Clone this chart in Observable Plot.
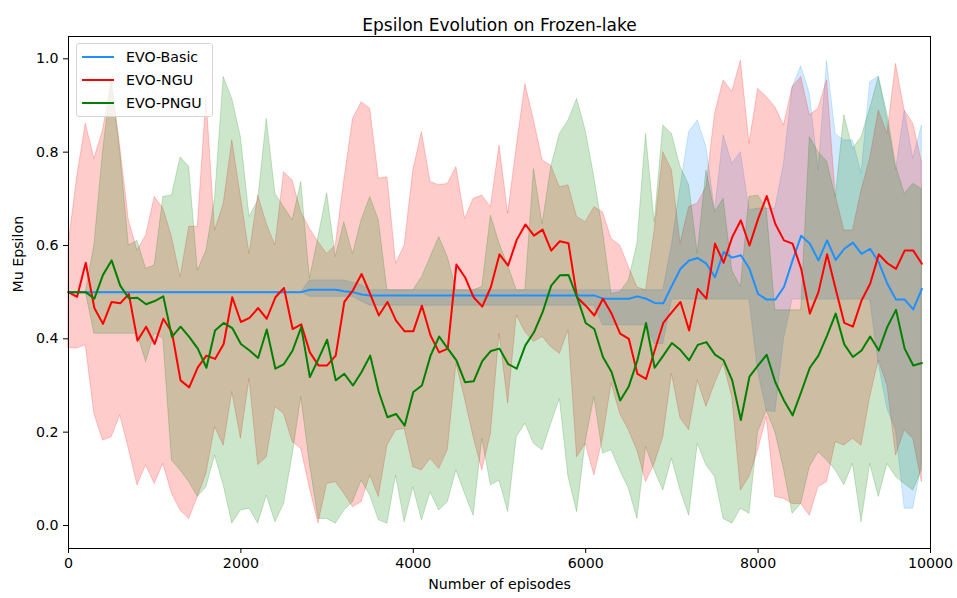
<!DOCTYPE html>
<html><head><meta charset="utf-8">
<script src="https://cdn.jsdelivr.net/npm/d3@7"></script>
<script src="https://cdn.jsdelivr.net/npm/@observablehq/plot@0.6"></script>
<style>
body{margin:0;background:#fff;font-family:"DejaVu Sans",sans-serif;}
#wrap{position:relative;width:957px;height:598px;}
#legend{position:absolute;left:76px;top:43px;width:137px;height:74px;border:1px solid #d6d6d6;border-radius:3px;background:rgba(255,255,255,0.8);box-sizing:border-box;}
.item{position:absolute;left:5px;height:22px;display:flex;align-items:center;font-size:14.2px;color:#000;white-space:nowrap;}
.item span.sw{display:inline-block;width:32px;height:2px;margin-right:12px;}
</style></head><body><div id="wrap"><div id="legend"></div></div>
<script>
const episodes = [0,100,200,300,400,500,600,700,800,900,1000,1100,1200,1300,1400,1500,1600,1700,1800,1900,2000,2100,2200,2300,2400,2500,2600,2700,2800,2900,3000,3100,3200,3300,3400,3500,3600,3700,3800,3900,4000,4100,4200,4300,4400,4500,4600,4700,4800,4900,5000,5100,5200,5300,5400,5500,5600,5700,5800,5900,6000,6100,6200,6300,6400,6500,6600,6700,6800,6900,7000,7100,7200,7300,7400,7500,7600,7700,7800,7900,8000,8100,8200,8300,8400,8500,8600,8700,8800,8900,9000,9100,9200,9300,9400,9500,9600,9700,9800,9900];

const seriesNames = ["EVO-Basic","EVO-NGU","EVO-PNGU"];
const seriesColors = ["#1e90ff","#ff0000","#008000"];

const basicMean = [0.5,0.5,0.5,0.5,0.5,0.5,0.5,0.5,0.5,0.5,0.5,0.5,0.5,0.5,0.5,0.5,0.5,0.5,0.5,0.5,0.5,0.5,0.5,0.5,0.5,0.5,0.5,0.5,0.505,0.505,0.505,0.505,0.502,0.5,0.495,0.493,0.493,0.493,0.493,0.493,0.493,0.493,0.493,0.493,0.493,0.493,0.493,0.493,0.493,0.493,0.493,0.493,0.493,0.493,0.493,0.493,0.493,0.493,0.493,0.493,0.493,0.493,0.486,0.486,0.486,0.486,0.491,0.486,0.477,0.476,0.514,0.55,0.568,0.573,0.561,0.532,0.586,0.574,0.579,0.55,0.496,0.484,0.484,0.511,0.568,0.621,0.604,0.568,0.611,0.569,0.593,0.606,0.582,0.593,0.564,0.518,0.484,0.484,0.463,0.507];
const basicLow = [0.5,0.5,0.5,0.5,0.5,0.5,0.5,0.5,0.5,0.5,0.5,0.5,0.5,0.5,0.5,0.5,0.5,0.5,0.5,0.5,0.5,0.5,0.5,0.5,0.5,0.5,0.5,0.5,0.49,0.49,0.49,0.49,0.49,0.49,0.48,0.471,0.471,0.471,0.471,0.471,0.471,0.471,0.471,0.471,0.471,0.471,0.471,0.471,0.471,0.471,0.471,0.471,0.471,0.471,0.471,0.471,0.471,0.471,0.471,0.471,0.471,0.471,0.429,0.429,0.429,0.429,0.429,0.429,0.389,0.389,0.484,0.484,0.484,0.484,0.484,0.484,0.484,0.484,0.484,0.484,0.33,0.246,0.243,0.4,0.484,0.484,0.484,0.484,0.484,0.484,0.484,0.484,0.484,0.484,0.346,0.25,0.204,0.036,0.036,0.132];
const basicHigh = [0.5,0.5,0.5,0.5,0.5,0.5,0.5,0.5,0.5,0.5,0.5,0.5,0.5,0.5,0.5,0.5,0.5,0.5,0.5,0.5,0.5,0.5,0.5,0.5,0.5,0.5,0.5,0.5,0.525,0.525,0.525,0.525,0.525,0.52,0.515,0.504,0.504,0.504,0.504,0.504,0.504,0.504,0.504,0.504,0.504,0.504,0.504,0.504,0.504,0.504,0.504,0.504,0.504,0.504,0.504,0.504,0.504,0.504,0.504,0.504,0.504,0.504,0.504,0.504,0.504,0.504,0.504,0.504,0.504,0.504,0.6,0.725,0.843,0.868,0.811,0.675,0.836,0.775,0.8,0.675,0.679,0.679,0.679,0.775,0.939,0.984,0.925,0.761,0.995,0.839,0.825,0.825,0.754,0.95,0.962,0.868,0.761,0.889,0.786,0.857];

const nguMean = [0.5,0.49,0.563,0.466,0.432,0.479,0.476,0.496,0.396,0.426,0.389,0.443,0.414,0.311,0.296,0.339,0.364,0.357,0.389,0.489,0.436,0.445,0.466,0.443,0.489,0.509,0.421,0.431,0.371,0.343,0.343,0.364,0.479,0.504,0.539,0.496,0.45,0.479,0.439,0.416,0.416,0.471,0.407,0.371,0.379,0.559,0.532,0.489,0.469,0.511,0.581,0.557,0.612,0.645,0.621,0.634,0.589,0.609,0.605,0.489,0.471,0.45,0.486,0.454,0.411,0.4,0.325,0.314,0.375,0.434,0.457,0.479,0.418,0.507,0.486,0.604,0.563,0.618,0.654,0.6,0.657,0.706,0.646,0.611,0.604,0.55,0.454,0.5,0.581,0.507,0.434,0.426,0.482,0.518,0.581,0.562,0.55,0.589,0.589,0.561];
const nguLow = [0.38,0.379,0.386,0.239,0.182,0.189,0.236,0.164,0.086,0.129,0.089,0.132,0.068,0.032,0.014,0.061,0.111,0.211,0.171,0.286,0.186,0.314,0.129,0.146,0.254,0.239,0.179,0.164,0.08,0.004,0.089,0.093,0.068,0.039,0.05,0.107,0.061,0.171,0.204,0.207,0.125,0.118,0.143,0.121,0.161,0.346,0.271,0.189,0.118,0.196,0.411,0.261,0.45,0.414,0.393,0.404,0.382,0.368,0.418,0.146,0.175,0.107,0.186,0.304,0.239,0.204,0.16,0.093,0.132,0.189,0.325,0.229,0.204,0.311,0.254,0.304,0.346,0.275,0.075,0.104,0.161,0.232,0.061,0.057,0.046,0.046,0.021,0.082,0.093,0.179,0.171,0.186,0.171,0.275,0.354,0.3,0.15,0.204,0.186,0.093];
const nguHigh = [0.6,0.746,0.861,0.786,0.846,0.954,0.811,0.654,0.589,0.621,0.704,0.679,0.618,0.532,0.64,0.64,0.918,0.632,0.689,0.825,0.704,0.582,0.707,0.646,0.6,0.757,0.739,0.671,0.636,0.607,0.582,0.6,0.739,0.871,0.907,0.893,0.743,0.746,0.561,0.6,0.761,0.843,0.736,0.729,0.732,0.768,0.657,0.7,0.707,0.682,0.814,0.668,0.811,0.946,0.868,0.782,0.771,0.725,0.729,0.661,0.65,0.682,0.671,0.614,0.6,0.554,0.51,0.504,0.632,0.8,0.761,0.604,0.682,0.69,0.725,0.882,0.954,0.929,0.996,0.818,0.936,0.918,0.896,0.857,0.939,0.961,0.879,0.893,0.954,0.707,0.632,0.632,0.718,0.786,0.889,0.839,0.989,0.889,0.861,0.779];

const pnguMean = [0.5,0.5,0.5,0.486,0.537,0.568,0.514,0.487,0.488,0.474,0.481,0.491,0.404,0.426,0.404,0.379,0.338,0.418,0.434,0.423,0.389,0.375,0.359,0.42,0.336,0.346,0.375,0.425,0.318,0.357,0.398,0.311,0.325,0.3,0.329,0.364,0.286,0.232,0.239,0.214,0.286,0.3,0.364,0.405,0.379,0.354,0.307,0.309,0.352,0.374,0.379,0.346,0.336,0.386,0.414,0.457,0.514,0.536,0.537,0.489,0.434,0.421,0.361,0.329,0.268,0.298,0.354,0.434,0.338,0.364,0.391,0.376,0.354,0.387,0.393,0.366,0.354,0.311,0.226,0.319,0.343,0.366,0.307,0.268,0.236,0.286,0.338,0.364,0.407,0.454,0.388,0.361,0.375,0.405,0.375,0.426,0.462,0.379,0.343,0.348];
const pnguLow = [0.5,0.5,0.5,0.411,0.411,0.411,0.411,0.411,0.411,0.35,0.411,0.4,0.139,0.118,0.093,0.061,0.082,0.15,0.086,0.004,0.032,0.036,0.004,0.064,0.007,0.046,0.15,0.275,0.132,0.014,0.014,0.004,0.032,0.05,0.096,0.064,0.011,0.004,0.107,0.007,0.082,0.011,0.071,0.032,0.05,0.118,0.068,0.021,0.186,0.086,0.096,0.029,0.189,0.218,0.175,0.161,0.218,0.271,0.104,0.029,0.179,0.275,0.154,0.161,0.118,0.079,0.014,0.168,0.118,0.075,0.143,0.075,0.021,0.175,0.129,0.104,0.014,0.004,0.036,0.025,0.2,0.246,0.2,0.12,0.025,0.046,0.125,0.157,0.139,0.118,0.086,0.132,0.007,0.132,0.061,0.132,0.104,0.089,0.075,0.118];
const pnguHigh = [0.5,0.5,0.5,0.6,0.8,0.954,0.8,0.6,0.61,0.55,0.557,0.704,0.707,0.789,0.768,0.546,0.589,0.7,0.961,0.914,0.832,0.661,0.696,0.871,0.711,0.682,0.654,0.736,0.529,0.618,0.712,0.575,0.65,0.582,0.654,0.704,0.654,0.504,0.504,0.504,0.504,0.532,0.575,0.618,0.575,0.504,0.504,0.504,0.511,0.664,0.604,0.557,0.504,0.504,0.764,0.646,0.768,0.839,0.868,0.914,0.846,0.746,0.632,0.496,0.5,0.525,0.604,0.839,0.65,0.857,0.839,0.768,0.729,0.582,0.761,0.671,0.7,0.546,0.511,0.704,0.707,0.679,0.461,0.461,0.461,0.461,0.832,0.8,0.78,0.704,0.879,0.807,0.832,0.893,0.961,0.882,0.771,0.711,0.732,0.721];

const xTicks = [0,2000,4000,6000,8000,10000];
const yTicks = [0.0,0.2,0.4,0.6,0.8,1.0];

const title = "Epsilon Evolution on Frozen-lake";
const xLabel = "Number of episodes";
const yLabel = "Mu Epsilon";

const sets = [
  {name: seriesNames[0], mean: basicMean, lo: basicLow, hi: basicHigh},
  {name: seriesNames[1], mean: nguMean, lo: nguLow, hi: nguHigh},
  {name: seriesNames[2], mean: pnguMean, lo: pnguLow, hi: pnguHigh}
];
const rows = sets.flatMap(s => episodes.map((e, i) => ({series: s.name, episode: e, mean: s.mean[i], lo: s.lo[i], hi: s.hi[i]})));

const chart = Plot.plot({
  width: 957, height: 598,
  marginLeft: 68, marginRight: 27, marginTop: 36, marginBottom: 50,
  style: {fontFamily: "DejaVu Sans, sans-serif", fontSize: "14.2px", color: "#000", background: "#fff"},
  x: {domain: [0, 10000]},
  y: {domain: [-0.0493, 1.0478]},
  color: {domain: seriesNames, range: seriesColors},
  marks: [
    Plot.areaY(rows, {x: "episode", y1: "lo", y2: "hi", z: "series", fill: "series", fillOpacity: 0.2, stroke: "series", strokeOpacity: 0.2, strokeWidth: 1}),
    Plot.lineY(rows, {x: "episode", y: "mean", z: "series", stroke: "series", strokeWidth: 2}),
    Plot.frame({stroke: "#000", strokeWidth: 1}),
    Plot.axisX({ticks: xTicks, tickSize: 5, tickPadding: 4, label: null, tickFormat: d3.format("d"), fontSize: 14.2}),
    Plot.axisY({ticks: yTicks, tickSize: 5, tickPadding: 5, label: null, tickFormat: d3.format(".1f"), fontSize: 14.2}),
    Plot.text([xLabel], {frameAnchor: "bottom", dy: 40, fontSize: 14.2}),
    Plot.text([yLabel], {frameAnchor: "left", dx: -50.5, rotate: -90, fontSize: 14.2}),
    Plot.text([title], {frameAnchor: "top", dy: -18, fontSize: 17})
  ]
});
const wrap = document.getElementById("wrap");
wrap.insertBefore(chart, wrap.firstChild);

const legend = document.getElementById("legend");
seriesNames.forEach((n, i) => {
  const d = document.createElement("div");
  d.className = "item";
  d.style.top = (1.5 + i * 23) + "px";
  d.innerHTML = `<span class="sw" style="background:${seriesColors[i]}"></span>${n}`;
  legend.appendChild(d);
});
</script></body></html>
